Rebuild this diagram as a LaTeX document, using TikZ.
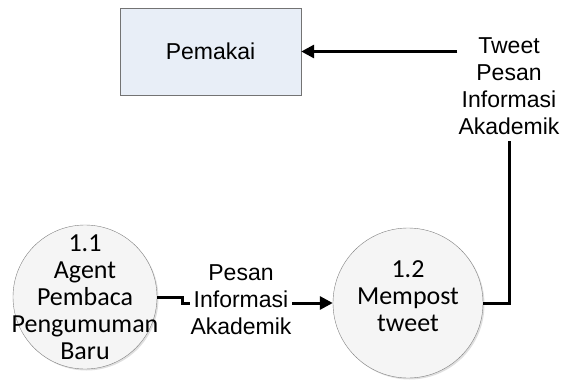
\documentclass[tikz,border=0pt]{standalone}
\usepackage{fontspec}
\setmainfont{Liberation Sans}
\newfontfamily\arial{Liberation Sans}
\newfontfamily\calibri{Carlito}
\usetikzlibrary{arrows.meta,shadows}

\begin{document}
\begin{tikzpicture}[x=1pt,y=-1pt,
	entity/.style={draw=gray!90!black,fill={rgb,255:red,232;green,238;blue,247},minimum width=181pt,minimum height=87pt,font=\arial\fontsize{23}{27}\selectfont},
	proc/.style={draw=gray,fill=gray!8,circle,minimum size=#1,drop shadow={opacity=0.25,shadow xshift=1.5pt,shadow yshift=-1.5pt}},
	proctext/.style={align=center,inner sep=0pt,font=\calibri\fontsize{26}{27}\selectfont},
	flowtext/.style={align=center,inner sep=1pt,fill=white,font=\arial\fontsize{23}{27}\selectfont},
	flow/.style={->,>={Triangle[length=13pt,width=13pt]},line width=3pt}]
			\useasboundingbox (0,0) rectangle (568,380);
			\node[entity] (pemakai) at (210.5,51.5){Pemakai};
			\node[flowtext,fill=none] (tweet) at (509,86){Tweet\\Pesan\\Informasi\\Akademik};
			\node[proc=144pt] (c11) at (85,297){};
			\node[proctext] (c11t) at (85,297){1.1\\Agent\\Pembaca\\Pengumuman\\Baru};
			\node[proc=150pt] (c12) at (408,303){};
			\node[proctext] (c12t) at (408,296){1.2\\Mempost\\tweet};
			\draw[flow] (tweet.west |- pemakai.east) -- (pemakai.east);
			\draw[line width=3pt,shorten >=5pt] (c12.east) -| (tweet.south);
			\draw[flow] (c11.east) -- ++(25,0) |- (c12.west);
			\node[flowtext] (pesan) at (241,300){Pesan\\Informasi\\Akademik};
		\end{tikzpicture}
\end{document}
